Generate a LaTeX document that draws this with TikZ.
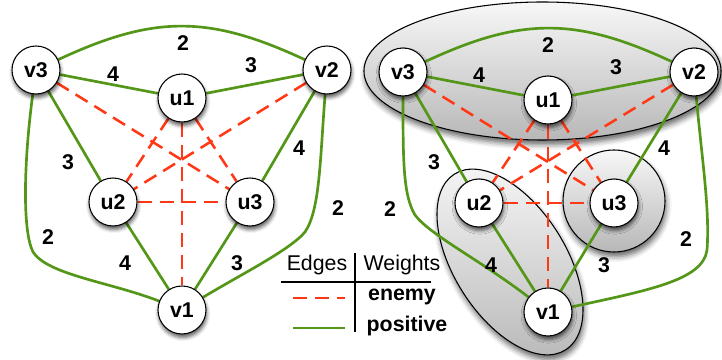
\documentclass[tikz,border=0pt]{standalone}
\usepackage{fontspec}
\setmainfont{Liberation Sans}
\usetikzlibrary{shadows.blur}
\pgfdeclarelayer{bg}
\pgfdeclarelayer{edgelayer}
\pgfsetlayers{bg,edgelayer,main}
\definecolor{posgreen}{RGB}{84,150,24}
\definecolor{enemyred}{RGB}{255,56,22}
\tikzset{
  vert/.style={circle, draw=black, line width=0.8pt, fill=white, minimum size=36pt, inner sep=0pt,
    font=\fontsize{16}{19}\selectfont\bfseries,
    blur shadow={shadow xshift=0.6pt, shadow yshift=-2.6pt, shadow blur radius=2.8pt, shadow opacity=65}},
  wlab/.style={inner sep=0pt, font=\fontsize{16}{19}\selectfont\bfseries},
  legtxt/.style={inner sep=0pt, font=\fontsize{16}{19}\selectfont},
  legbold/.style={inner sep=0pt, font=\fontsize{16}{19}\selectfont\bfseries},
  posedge/.style={draw=posgreen, line width=2pt},
  enemyedge/.style={draw=enemyred, line width=1.9pt, dash pattern=on 10.5pt off 6pt},
  grp/.style={draw=black, line width=0.8pt, top color=black!3, bottom color=black!28,
    blur shadow={shadow xshift=1pt, shadow yshift=-3.5pt, shadow blur radius=4pt, shadow opacity=60}},
  tabline/.style={draw=black, line width=0.8pt}
}
\begin{document}
\begin{tikzpicture}[x=0.75pt,y=0.75pt]
\useasboundingbox (0,0) rectangle (722,360);

% ---------- left graph ----------
\node[vert] (lv3) at (36,290) {v3};
\node[vert] (lv2) at (327,290) {v2};
\node[vert] (lu1) at (182,262) {u1};
\node[vert] (lu2) at (113,158) {u2};
\node[vert] (lu3) at (250,158) {u3};
\node[vert] (lv1) at (182,50) {v1};

\node[wlab] (lw1) at (183,317) {2};
\node[wlab] (lw2) at (113,286) {4};
\node[wlab] (lw3) at (251,295) {3};
\node[wlab] (lw4) at (68,198) {3};
\node[wlab] (lw5) at (299,212) {4};
\node[wlab] (lw6) at (48,123) {2};
\node[wlab] (lw7) at (338,152) {2};
\node[wlab] (lw8) at (125,97) {4};
\node[wlab] (lw9) at (237,97) {3};

% ---------- right graph ----------
\node[vert] (rv3) at (403,288) {v3};
\node[vert] (rv2) at (694,288) {v2};
\node[vert] (ru1) at (548,260) {u1};
\node[vert] (ru2) at (479,157) {u2};
\node[vert] (ru3) at (614,157) {u3};
\node[vert] (rv1) at (548,48) {v1};

\node[wlab] (rw1) at (548,315) {2};
\node[wlab] (rw2) at (479,285) {4};
\node[wlab] (rw3) at (616,293) {3};
\node[wlab] (rw4) at (434,198) {3};
\node[wlab] (rw5) at (664,212) {4};
\node[wlab] (rw6) at (390,151) {2};
\node[wlab] (rw7) at (686,121) {2};
\node[wlab] (rw8) at (491,95) {4};
\node[wlab] (rw9) at (604,95) {3};

% ---------- groups ----------
\begin{pgfonlayer}{bg}
  \path[grp] (542.5,289) ellipse [x radius=133.9pt, y radius=51.75pt];
  \path[grp] (614,159) circle [radius=38.25pt];
  \path[grp, rotate around={-57.7:(510,98)}] (510,98) ellipse [x radius=78pt, y radius=42pt];
\end{pgfonlayer}

% ---------- edges ----------
\begin{pgfonlayer}{edgelayer}
  % left
  \draw[posedge] (lv3) to[out=25,in=155,looseness=1.1] (lv2);
  \draw[posedge] (lv3) -- (lu1);
  \draw[posedge] (lu1) -- (lv2);
  \draw[posedge] (lv3) -- (lu2);
  \draw[posedge] (lv2) -- (lu3);
  \draw[posedge] (lu2) -- (lv1);
  \draw[posedge] (lu3) -- (lv1);
  \draw[posedge] (lv3) .. controls (24,200) and (22,130) .. (33,108) .. controls (48,85) and (110,78) .. (lv1);
  \draw[posedge] (lv2) .. controls (320,200) and (320,150) .. (305,128) .. controls (290,110) and (240,85) .. (lv1);
  \draw[enemyedge] (lv3) -- (lu3);
  \draw[enemyedge] (lv2) -- (lu2);
  \draw[enemyedge] (lu1) -- (lu2);
  \draw[enemyedge] (lu1) -- (lu3);
  \draw[enemyedge] (lu1) -- (lv1);
  \draw[enemyedge] (lu2) -- (lu3);
  % right
  \draw[posedge] (rv3) to[out=25,in=155,looseness=1.1] (rv2);
  \draw[posedge] (rv3) -- (ru1);
  \draw[posedge] (ru1) -- (rv2);
  \draw[posedge] (rv3) -- (ru2);
  \draw[posedge] (rv2) -- (ru3);
  \draw[posedge] (ru2) -- (rv1);
  \draw[posedge] (ru3) -- (rv1);
  \draw[posedge] (rv3) .. controls (403,200) and (403,165) .. (415,145) .. controls (430,125) and (480,100) .. (rv1);
  \draw[posedge] (rv2) .. controls (702,200) and (710,150) .. (707,110) .. controls (703,80) and (650,70) .. (rv1);
  \draw[enemyedge] (rv3) -- (ru3);
  \draw[enemyedge] (rv2) -- (ru2);
  \draw[enemyedge] (ru1) -- (ru2);
  \draw[enemyedge] (ru1) -- (ru3);
  \draw[enemyedge] (ru1) -- (rv1);
  \draw[enemyedge] (ru2) -- (ru3);
\end{pgfonlayer}

% ---------- legend ----------
\node[legtxt] (edgesH) at (317,95) {Edges};
\node[legtxt] (weightsH) at (402,95) {Weights};
\node[legbold] (enemyT) at (402,63) {enemy};
\node[legbold] (posT) at (407,34) {positive};
\coordinate (vtop) at (355,107);
\coordinate (vbot) at (355,28);
\coordinate (hleft) at (281,78);
\coordinate (hright) at (431,78);
\coordinate (ea) at (293,62);
\coordinate (eb) at (345,62);
\coordinate (pa) at (293,32);
\coordinate (pb) at (345,32);
\draw[tabline] (vtop) -- (vbot);
\draw[tabline] (hleft) -- (hright);
\draw[enemyedge] (ea) -- (eb);
\draw[posedge] (pa) -- (pb);
\end{tikzpicture}
\end{document}
